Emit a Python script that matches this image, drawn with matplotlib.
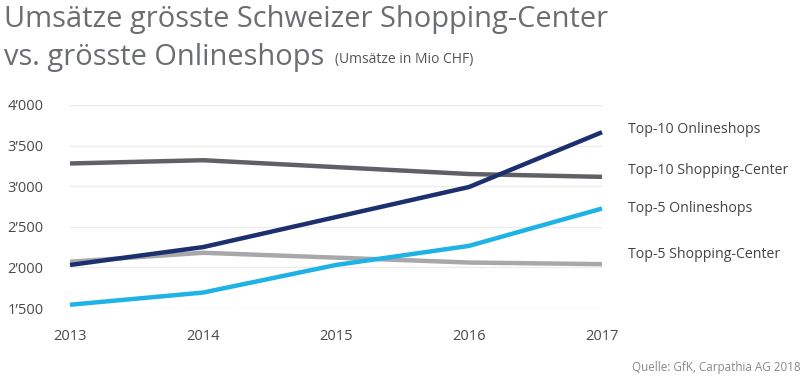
import matplotlib
matplotlib.use("Agg")
import matplotlib.pyplot as plt
from matplotlib.ticker import FixedLocator

years = [2013, 2014, 2015, 2016, 2017]
top10_online = [2030, 2250, 2620, 2990, 3665]
top10_center = [3280, 3320, 3235, 3150, 3115]
top5_online = [1540, 1690, 2030, 2265, 2725]
top5_center = [2070, 2180, 2120, 2060, 2040]
series_names = ["Top-10 Onlineshops", "Top-10 Shopping-Center",
                "Top-5 Onlineshops", "Top-5 Shopping-Center"]
y_ticks = [1500, 2000, 2500, 3000, 3500, 4000]
y_tick_labels = ["1\u2019500", "2\u2019000", "2\u2019500", "3\u2019000", "3\u2019500", "4\u2019000"]

W, H = 808, 379
fig = plt.figure(figsize=(W / 100, H / 100), dpi=100)
plt.rcParams['font.family'] = ['Open Sans', 'DejaVu Sans']

def fx(px):
    return px / W

def fy(py):
    return 1 - py / H

left, right, top, bottom = 70, 602, 105, 308
ax = fig.add_axes([fx(left), fy(bottom), fx(right - left), (bottom - top) / H])
ax.set_xlim(2013, 2017)
ax.set_ylim(1500, 4000)

colors = {"Top-10 Onlineshops": "#1c2f6e",
          "Top-10 Shopping-Center": "#606166",
          "Top-5 Onlineshops": "#1fb3e5",
          "Top-5 Shopping-Center": "#a8a8aa"}
data = {"Top-10 Onlineshops": top10_online,
        "Top-10 Shopping-Center": top10_center,
        "Top-5 Onlineshops": top5_online,
        "Top-5 Shopping-Center": top5_center}
order = ["Top-5 Shopping-Center", "Top-10 Shopping-Center", "Top-5 Onlineshops", "Top-10 Onlineshops"]
for name in order:
    ax.plot(years, data[name], color=colors[name], lw=3.2, clip_on=False,
            solid_capstyle='butt', solid_joinstyle='round', zorder=3)

ax.yaxis.set_major_locator(FixedLocator(y_ticks))
ax.set_yticklabels(y_tick_labels)
ax.set_xticks(years)
ax.set_xticklabels([str(y) for y in years])
ax.grid(axis='y', color='#ececec', lw=1)
ax.grid(axis='x', visible=False)
for s in ax.spines.values():
    s.set_visible(False)
ax.tick_params(axis='y', length=0, pad=19, labelsize=10.5, labelcolor='#4a4a4a')
ax.tick_params(axis='x', length=0, pad=15, labelsize=10.5, labelcolor='#4a4a4a')
ax.set_facecolor('none')

# titles
fig.text(fx(4), fy(27), "Ums\u00e4tze gr\u00f6sste Schweizer Shopping-Center", fontsize=20.9,
         color='#6b6d70', va='baseline', ha='left')
fig.text(fx(4), fy(65), "vs. gr\u00f6sste Onlineshops", fontsize=20.9,
         color='#6b6d70', va='baseline', ha='left')
fig.text(fx(335), fy(63), "(Ums\u00e4tze in Mio CHF)", fontsize=10,
         color='#555555', va='baseline', ha='left')

label_y = {"Top-10 Onlineshops": 130, "Top-10 Shopping-Center": 170,
           "Top-5 Onlineshops": 208, "Top-5 Shopping-Center": 254}
for name in series_names:
    fig.text(fx(628), fy(label_y[name]), name, fontsize=10.2, color='#444444',
             va='center', ha='left')

fig.text(fx(801), fy(368), "Quelle: GfK, Carpathia AG 2018", fontsize=8.4,
         color='#888888', va='center', ha='right')

fig.savefig("out.png", dpi=100, facecolor='white')
